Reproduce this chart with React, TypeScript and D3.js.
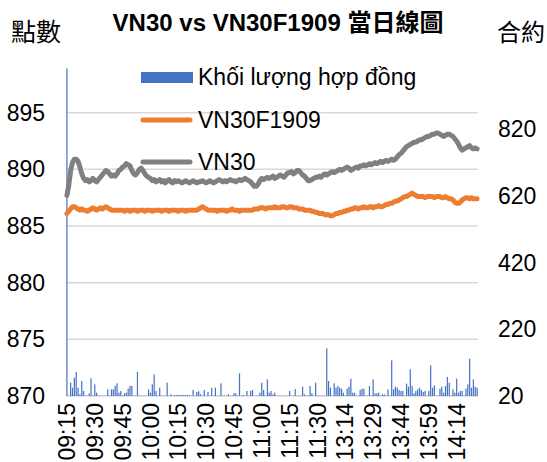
import React from "react";
import * as d3 from "d3";

// trading sessions (minute categories)
const sessions = [
  ["09:15", "11:30"],
  ["13:00", "14:25"],
];

const tickLabels = ["09:15", "09:30", "09:45", "10:00", "10:15", "10:30", "10:45", "11:00", "11:15", "11:30", "13:14", "13:29", "13:44", "13:59", "14:14"];
const leftTicks = [870, 875, 880, 885, 890, 895];
const rightTicks = [20, 220, 420, 620, 820];

// VN30 index, one value per minute
const vn30 = [
  887.7, 888.6, 889.9, 890.6, 890.9, 890.9, 890.7, 890.2, 889.6, 889.2,
  889.0, 889.1, 888.9, 889.0, 889.2, 889.0, 888.9, 889.1, 889.3, 889.5,
  889.7, 889.9, 889.8, 889.6, 889.4, 889.5, 889.4, 889.6, 889.9, 890.0,
  890.2, 890.3, 890.5, 890.4, 890.3, 889.9, 889.6, 889.5, 889.7, 890.0,
  890.1, 889.9, 889.6, 889.4, 889.3, 889.2, 889.0, 889.1, 888.9, 889.0,
  889.1, 888.9, 889.0, 888.8, 889.0, 889.1, 888.9, 888.8, 889.0, 888.9,
  889.0, 888.9, 888.8, 888.9, 889.0, 888.9, 888.8, 888.9, 889.0, 888.9,
  888.8, 888.9, 888.9, 889.0, 888.9, 888.8, 888.9, 889.0, 888.9, 888.8,
  888.9, 889.0, 889.1, 889.0, 888.9, 889.0, 888.9, 889.0, 889.1, 889.0,
  889.0, 888.9, 889.0, 889.1, 889.0, 889.1, 889.2, 889.1, 889.0, 888.9,
  888.7, 888.5, 888.5, 888.7, 889.0, 889.2, 889.1, 889.2, 889.3, 889.2,
  889.3, 889.4, 889.2, 889.3, 889.4, 889.5, 889.4, 889.3, 889.5, 889.7,
  889.7, 889.8, 889.6, 889.7, 889.9, 889.9, 889.7, 889.5, 889.4, 889.2,
  889.0, 889.0, 889.1, 889.2, 889.3, 889.3, 889.4, 889.3, 889.5, 889.6,
  889.5, 889.6, 889.7, 889.8, 889.7, 889.8, 889.9, 890.0, 889.9, 890.0,
  890.1, 890.2, 890.1, 889.9, 890.0, 890.1, 890.2, 890.1, 890.3, 890.3,
  890.4, 890.3, 890.4, 890.5, 890.4, 890.5, 890.6, 890.5, 890.6, 890.7,
  890.6, 890.7, 890.8, 890.7, 890.8, 890.9, 890.8, 890.9, 891.1, 891.3,
  891.4, 891.6, 891.8, 892.0, 892.1, 892.2, 892.3, 892.4, 892.4, 892.5,
  892.6, 892.6, 892.7, 892.8, 892.9, 892.9, 893.0, 893.1, 893.1, 893.2,
  893.2, 893.1, 893.0, 892.9, 893.0, 893.1, 893.1, 893.0, 892.9, 892.7,
  892.5, 892.2, 891.9, 891.7, 891.8, 891.9, 892.0, 892.1, 891.9, 891.8,
  891.9, 891.8,
];

// VN30F1909 futures
const vn30f = [
  886.1, 886.3, 886.5, 886.7, 886.7, 886.6, 886.5, 886.4, 886.5, 886.4,
  886.4, 886.3, 886.4, 886.5, 886.6, 886.5, 886.4, 886.5, 886.6, 886.5,
  886.6, 886.7, 886.6, 886.5, 886.4, 886.4, 886.4, 886.4, 886.4, 886.4,
  886.4, 886.3, 886.4, 886.4, 886.3, 886.4, 886.4, 886.4, 886.3, 886.4,
  886.4, 886.4, 886.3, 886.4, 886.4, 886.4, 886.3, 886.4, 886.4, 886.4,
  886.4, 886.3, 886.4, 886.4, 886.4, 886.3, 886.4, 886.4, 886.4, 886.4,
  886.3, 886.4, 886.4, 886.4, 886.3, 886.4, 886.4, 886.4, 886.4, 886.4,
  886.4, 886.5, 886.6, 886.7, 886.6, 886.5, 886.4, 886.4, 886.4, 886.4,
  886.4, 886.3, 886.4, 886.4, 886.4, 886.4, 886.3, 886.4, 886.4, 886.5,
  886.4, 886.4, 886.4, 886.3, 886.4, 886.4, 886.4, 886.4, 886.4, 886.4,
  886.4, 886.5, 886.5, 886.5, 886.6, 886.6, 886.6, 886.5, 886.6, 886.6,
  886.6, 886.6, 886.7, 886.6, 886.6, 886.6, 886.7, 886.7, 886.6, 886.6,
  886.7, 886.7, 886.6, 886.6, 886.6, 886.5, 886.5, 886.5, 886.4, 886.4,
  886.4, 886.4, 886.3, 886.3, 886.2, 886.2, 886.1, 886.1, 886.1, 886.0,
  886.0, 886.0, 885.9, 885.9, 886.0, 886.1, 886.1, 886.2, 886.2, 886.3,
  886.3, 886.4, 886.4, 886.5, 886.5, 886.6, 886.6, 886.5, 886.6, 886.6,
  886.7, 886.6, 886.6, 886.7, 886.7, 886.6, 886.7, 886.7, 886.8, 886.7,
  886.7, 886.8, 886.9, 886.9, 887.0, 887.0, 887.1, 887.2, 887.2, 887.3,
  887.4, 887.5, 887.6, 887.6, 887.7, 887.8, 887.9, 887.8, 887.7, 887.6,
  887.6, 887.6, 887.6, 887.5, 887.6, 887.6, 887.6, 887.6, 887.5, 887.6,
  887.6, 887.6, 887.5, 887.5, 887.6, 887.5, 887.4, 887.4, 887.3, 887.1,
  887.0, 887.0, 887.1, 887.3, 887.4, 887.5, 887.5, 887.4, 887.5, 887.4,
  887.4, 887.4,
];

// contracts traded per minute
const volume = [
  1003, 21, 60, 45, 75, 92, 45, 25, 65, 35,
  21, 21, 28, 73, 21, 55, 30, 21, 21, 21,
  21, 21, 40, 21, 40, 40, 50, 58, 30, 35,
  21, 28, 30, 42, 50, 50, 21, 21, 92, 21,
  21, 21, 21, 21, 40, 30, 55, 85, 35, 21,
  45, 21, 21, 21, 60, 21, 25, 21, 23, 23,
  23, 23, 23, 23, 23, 23, 23, 21, 38, 21,
  32, 34, 25, 21, 38, 21, 32, 21, 45, 21,
  45, 21, 21, 58, 21, 21, 21, 25, 21, 21,
  28, 28, 21, 88, 21, 23, 21, 35, 21, 35,
  38, 21, 21, 21, 30, 60, 38, 21, 70, 30,
  35, 25, 30, 21, 21, 21, 21, 21, 21, 21,
  35, 21, 21, 41, 21, 21, 21, 48, 25, 21,
  21, 50, 28, 21, 60, 21, 21, 21, 21, 21,
  163, 65, 45, 21, 58, 45, 50, 45, 42, 30,
  21, 42, 48, 72, 30, 30, 21, 21, 38, 42,
  42, 21, 21, 50, 21, 70, 28, 28, 30, 21,
  25, 25, 21, 40, 21, 127, 40, 48, 45, 38,
  35, 35, 21, 57, 48, 100, 50, 28, 35, 40,
  45, 38, 32, 35, 21, 35, 112, 45, 52, 21,
  21, 42, 48, 30, 50, 77, 60, 21, 40, 30,
  72, 30, 35, 35, 21, 42, 55, 132, 45, 70,
  48, 45,
];

const toMin = (s: string) => {
  const [h, m] = s.split(":").map(Number);
  return h * 60 + m;
};
const fmt = (t: number) => `${String(Math.floor(t / 60)).padStart(2, "0")}:${String(t % 60).padStart(2, "0")}`;
const categories: string[] = [];
sessions.forEach(([a, b]) => {
  for (let t = toMin(a); t <= toMin(b); t++) categories.push(fmt(t));
});

const W = 547;
const H = 462;
const left = 66;
const right = 478;
const top = 56;
const bottom = 396;

const latin = "'Liberation Sans', Arial, sans-serif";
const cjk = "'Noto Sans CJK TC', 'Noto Sans CJK SC', sans-serif";

const App = () => {
  const x = d3.scaleBand<string>().domain(categories).range([left, right]).padding(0);
  const cx = (c: string) => (x(c) ?? 0) + x.bandwidth() / 2;
  const yL = d3.scaleLinear().domain([870, 900]).range([bottom, top]);
  const yR = d3.scaleLinear().domain([20, 1040]).range([bottom, top]);

  const line = (vals: number[]) =>
    d3
      .line<number>()
      .x((_, i) => cx(categories[i]))
      .y((d) => yL(d))(vals) ?? "";

  return (
    <svg width={W} height={H} style={{ position: "absolute", left: 0, top: 0, background: "#fff" }}>
      {/* title */}
      <text x={278} y={31} textAnchor="middle" fontSize={24} fontWeight="bold" fontFamily={`${latin}`}>
        VN30 vs VN30F1909 <tspan fontFamily={cjk}>當日線圖</tspan>
      </text>
      <text x={11} y={41} fontSize={25} fontFamily={cjk}>點數</text>
      <text x={497} y={41} fontSize={24} fontFamily={cjk}>合約</text>

      {/* gridlines */}
      {leftTicks.map((t) => (
        <line key={t} x1={left} x2={right} y1={yL(t)} y2={yL(t)} stroke="#d9d9d9" strokeWidth={1.5} />
      ))}

      {/* volume bars */}
      {volume.map((v, i) => (
        <rect
          key={i}
          x={cx(categories[i]) - 0.6}
          width={1.2}
          y={yR(v)}
          height={Math.max(0, yR(20) - yR(v))}
          fill="#4472c4"
        />
      ))}

      <path d={line(vn30f)} fill="none" stroke="#ed7d31" strokeWidth={5} strokeLinejoin="round" strokeLinecap="round" />
      <path d={line(vn30)} fill="none" stroke="#808080" strokeWidth={5} strokeLinejoin="round" strokeLinecap="round" />

      {/* left axis labels */}
      {leftTicks.map((t) => (
        <text key={t} x={45} y={yL(t)} dy="0.35em" textAnchor="end" fontSize={23} fontFamily={latin}>
          {t}
        </text>
      ))}
      {/* right axis labels */}
      {rightTicks.map((t) => (
        <text key={t} x={498} y={yR(t)} dy="0.35em" fontSize={23} fontFamily={latin}>
          {t}
        </text>
      ))}
      {/* x axis labels */}
      {tickLabels.map((t) => (
        <text
          key={t}
          transform={`translate(${cx(t)},403) rotate(-90)`}
          dy="0.35em"
          textAnchor="end"
          fontSize={23}
          fontFamily={latin}
        >
          {t}
        </text>
      ))}

      {/* legend */}
      <rect x={141} y={72} width={52} height={11} fill="#4472c4" />
      <text x={198} y={77} dy="0.35em" fontSize={23} fontFamily={latin}>Khối lượng hợp đồng</text>
      <line x1={143} x2={190} y1={120} y2={120} stroke="#ed7d31" strokeWidth={5} strokeLinecap="round" />
      <text x={198} y={120} dy="0.35em" fontSize={23} fontFamily={latin}>VN30F1909</text>
      <line x1={143} x2={190} y1={162} y2={162} stroke="#808080" strokeWidth={5} strokeLinecap="round" />
      <text x={198} y={162} dy="0.35em" fontSize={23} fontFamily={latin}>VN30</text>
    </svg>
  );
};

export default App;
